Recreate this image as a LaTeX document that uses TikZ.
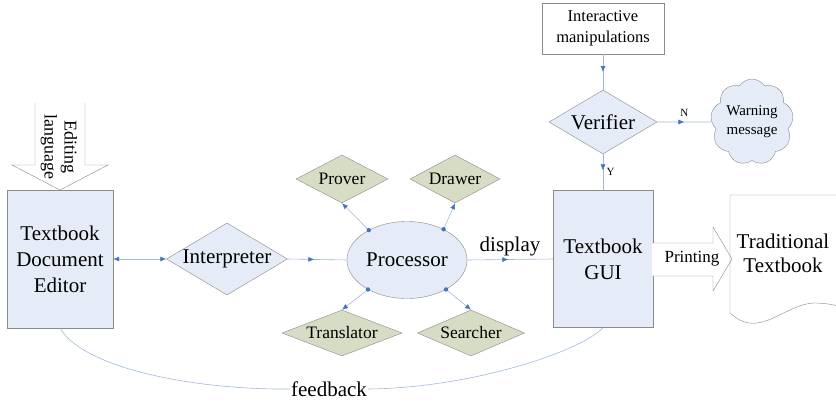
\documentclass[tikz,border=0pt]{standalone}
\usepackage{fontspec}
\setmainfont{Liberation Serif}
\usepackage{tikz}
\usetikzlibrary{arrows.meta, shapes.geometric, shapes.symbols, decorations.markings}
\definecolor{panelblue}{HTML}{E6ECF7}
\definecolor{toolgreen}{HTML}{D7DCC5}
\definecolor{edgegray}{HTML}{8A8A8A}
\definecolor{linkblue}{HTML}{A3B8DF}
\definecolor{tipblue}{HTML}{4472C4}

\tikzset{
  bluetip/.tip={Latex[length=6pt, width=5pt, color=tipblue]},
  panel/.style={draw=edgegray, fill=panelblue, align=center, inner sep=0pt,
                font=\fontsize{21}{26}\selectfont},
  decision/.style={diamond, draw=edgegray, fill=panelblue, inner sep=0pt},
  tool/.style={decision, fill=toolgreen},
  link/.style={draw=linkblue, line width=0.6pt},
  midtip/.style={postaction={decorate},
                 decoration={markings, mark=at position #1 with {\arrow{bluetip}}}},
  big/.style={font=\fontsize{21}{25}\selectfont},
  small/.style={font=\fontsize{17.5}{20}\selectfont},
}

\begin{document}
\begin{tikzpicture}[x=1pt, y=-1pt]

    \useasboundingbox (0,0) rectangle (836,405);
    \fill[white] (0,0) rectangle (836,405);
    \clip (0,0) rectangle (836,405);

    % ── Editor and its input ──────────────────────────────────────────────────
    \node[panel, minimum width=106pt, minimum height=138pt] (editor) at (60,259)
        {Textbook\\Document\\Editor};
    \draw[edgegray, fill=white] (35,103) -- (35,165) -- (12,165) -- (60,190)
        -- (108,165) -- (85,165) -- (85,103);
    \node[rotate=-90, align=center, font=\fontsize{18}{20}\selectfont] (lang)
        at (59,147) {Editing\\language};

    % ── Interpreter and processor ────────────────────────────────────────────
    \node[decision, minimum width=121pt, minimum height=72pt,
          label={[big]center:Interpreter}] (interp) at (227,259) {};
    \node[ellipse, draw=edgegray, fill=panelblue, minimum width=120pt,
          minimum height=77pt, inner sep=0pt, big] (proc) at (407,260) {Processor};

    % ── Tools around the processor ───────────────────────────────────────────
    \node[tool, minimum width=92pt, minimum height=48pt,
          label={[small]center:Prover}] (prover) at (342,179) {};
    \node[tool, minimum width=90pt, minimum height=48pt,
          label={[small]center:Drawer}] (drawer) at (455,179) {};
    \node[tool, minimum width=120pt, minimum height=46pt,
          label={[small]center:Translator}] (transl) at (342,333) {};
    \node[tool, minimum width=107pt, minimum height=46pt,
          label={[small]center:Searcher}] (search) at (471,333) {};

    % ── GUI, verifier and warning ────────────────────────────────────────────
    \node[panel, minimum width=100pt, minimum height=137pt] (gui) at (603,259)
        {Textbook\\GUI};
    \node[draw=edgegray, fill=white, minimum width=122pt, minimum height=51pt,
          align=center, font=\fontsize{16.5}{21}\selectfont] (manip) at (603,28.5)
        {Interactive\\manipulations};
    \node[decision, minimum width=108pt, minimum height=64pt,
          label={[big]center:Verifier}] (verif) at (603,122) {};
    \node[cloud, cloud puffs=9, cloud puff arc=115, draw=edgegray, fill=panelblue,
          minimum width=83pt, minimum height=86pt, inner sep=0pt,
          label={[align=center, font=\fontsize{15}{19}\selectfont]center:Warning\\message}]
        (warn) at (752,122) {};

    % ── Printed output ───────────────────────────────────────────────────────
    \draw[edgegray, fill=white] (652,243) -- (713,243) -- (713,227) -- (732,259)
        -- (713,291) -- (713,276) -- (652,276);
    \node[font=\fontsize{17}{20}\selectfont] (printlbl) at (692,259) {Printing};
    \draw[edgegray] (850,195) -- (730,195) -- (730,313)
        .. controls (740,322) and (748,324) .. (757,323)
        .. controls (775,321) and (795,303) .. (815,303)
        .. controls (828,303) and (840,306) .. (850,310);
    \node[align=center, font=\fontsize{21}{24}\selectfont] (trad) at (783,253)
        {Traditional\\Textbook};

    % ── Connectors ───────────────────────────────────────────────────────────
    \draw[link, bluetip-bluetip] (editor.east) -- (interp.west);
    \draw[link, midtip=0.45] (interp.east) -- (proc.west);
    \draw[link, midtip=0.48] (proc.east) -- node[above, big] {display} (gui.west);
    \draw[link, midtip=0.5] (manip.south) -- (verif.north);
    \draw[link, midtip=0.5] (verif.east)
        -- node[above, yshift=2pt, font=\fontsize{11}{13}\selectfont] {N} (warn.west);
    \draw[link, midtip=0.45] (verif.south)
        -- node[right, font=\fontsize{11}{13}\selectfont] {Y} (gui.north);

    \foreach \ang/\tool/\side in {142/prover/south, 40/drawer/south,
                                  217/transl/north, 323/search/north} {
        \draw[link, -bluetip] (proc.\ang) -- (\tool.\side);
        \fill[tipblue] (proc.\ang) circle (2.2pt);
    }

    % ── Feedback loop ────────────────────────────────────────────────────────
    \node[big, inner sep=1pt] (fb) at (329,389) {feedback};
    \draw[link] (editor.south) .. controls (85,370) and (200,390) .. (fb.west);
    \draw[link] (fb.east) .. controls (470,388) and (580,352) .. (gui.south);

  \end{tikzpicture}
\end{document}
